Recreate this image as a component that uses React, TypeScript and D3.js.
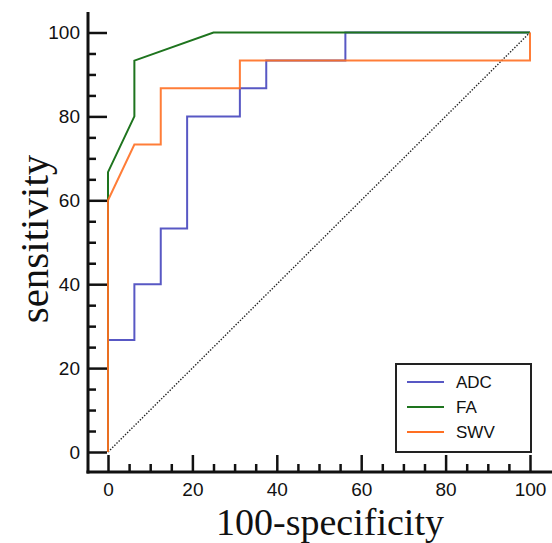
import React, { useEffect, useRef } from 'react';
import * as d3 from 'd3';

// ROC curves (100-specificity vs sensitivity)
const adcFpr = [0, 0, 6.25, 6.25, 12.5, 12.5, 18.75, 18.75, 31.25, 31.25, 37.5, 37.5, 56.25, 56.25, 100];
const adcTpr = [0, 26.7, 26.7, 40, 40, 53.3, 53.3, 80, 80, 86.7, 86.7, 93.3, 93.3, 100, 100];
const faFpr = [0, 0, 0, 6.25, 6.25, 25, 100];
const faTpr = [0, 60, 66.7, 80, 93.3, 100, 100];
const swvFpr = [0, 0, 6.25, 12.5, 12.5, 31.25, 31.25, 100, 100];
const swvTpr = [0, 60, 73.3, 73.3, 86.7, 86.7, 93.3, 93.3, 100];

const seriesNames = ['ADC', 'FA', 'SWV'];
const seriesColors = ['#5858c4', '#1e741e', '#ff6f22'];
const majorTicks = [0, 20, 40, 60, 80, 100];
const minorTicks = d3.range(5, 100, 5).filter(v => v % 20 !== 0);

const App = () => {
  const svgRef = useRef<SVGSVGElement>(null);

  useEffect(() => {
    const svg = d3.select(svgRef.current);
    svg.selectAll('*').remove();

    const width = 552;
    const height = 543;
    const axisX = 88;
    const axisY = 472;

    const x = d3.scaleLinear().domain([0, 100]).range([108, 530]);
    const y = d3.scaleLinear().domain([0, 100]).range([452, 32.5]);

    svg.attr('width', width).attr('height', height);

    // Diagonal reference line
    svg.append('line')
      .attr('x1', x(0)).attr('y1', y(0))
      .attr('x2', x(100)).attr('y2', y(100))
      .attr('stroke', '#222')
      .attr('stroke-width', 1.4)
      .attr('stroke-dasharray', '1.4,1.6');

    const line = d3.line<[number, number]>()
      .x(d => x(d[0]))
      .y(d => y(d[1]));

    const curves: [number[], number[]][] = [
      [adcFpr, adcTpr],
      [faFpr, faTpr],
      [swvFpr, swvTpr],
    ];

    curves.forEach(([fpr, tpr], i) => {
      svg.append('path')
        .datum(fpr.map((f, j) => [f, tpr[j]] as [number, number]))
        .attr('d', line)
        .attr('fill', 'none')
        .attr('stroke', seriesColors[i])
        .attr('stroke-width', 2)
        .attr('opacity', i === 2 ? 0.9 : 1);
    });

    // Axes
    const yMajor = svg.append('g')
      .attr('transform', `translate(${axisX},0)`)
      .call(d3.axisLeft(y).tickValues(majorTicks).tickSize(-19).tickPadding(8));
    const yMinor = svg.append('g')
      .attr('transform', `translate(${axisX},0)`)
      .call(d3.axisLeft(y).tickValues(minorTicks).tickSize(-8).tickFormat(() => ''));
    const xMajor = svg.append('g')
      .attr('transform', `translate(0,${axisY})`)
      .call(d3.axisBottom(x).tickValues(majorTicks).tickSize(-17).tickPadding(11));
    const xMinor = svg.append('g')
      .attr('transform', `translate(0,${axisY})`)
      .call(d3.axisBottom(x).tickValues(minorTicks).tickSize(-8).tickFormat(() => ''));

    [yMajor, yMinor, xMajor, xMinor].forEach(g => {
      g.select('.domain').remove();
      g.selectAll('.tick line').attr('stroke', '#111').attr('stroke-width', 2.5);
      g.selectAll('.tick text')
        .attr('fill', '#111')
        .style('font-family', '"Liberation Sans", Arial, sans-serif')
        .style('font-size', '19px');
    });
    xMajor.selectAll('.tick text').attr('dy', '0.71em');

    svg.append('line')
      .attr('x1', axisX).attr('y1', 12)
      .attr('x2', axisX).attr('y2', axisY + 1.5)
      .attr('stroke', '#111').attr('stroke-width', 3);
    svg.append('line')
      .attr('x1', axisX - 1.5).attr('y1', axisY)
      .attr('x2', width).attr('y2', axisY)
      .attr('stroke', '#111').attr('stroke-width', 3);

    // Axis titles
    svg.append('text')
      .attr('x', 330)
      .attr('y', 534.5)
      .attr('text-anchor', 'middle')
      .style('font-family', '"Liberation Serif", "Times New Roman", serif')
      .style('font-size', '38px')
      .attr('fill', '#111')
      .text('100-specificity');

    svg.append('text')
      .attr('transform', 'translate(48,239) rotate(-90)')
      .attr('text-anchor', 'middle')
      .style('font-family', '"Liberation Serif", "Times New Roman", serif')
      .style('font-size', '41px')
      .attr('fill', '#111')
      .text('sensitivity');

    // Legend
    const legend = svg.append('g');
    legend.append('rect')
      .attr('x', 396).attr('y', 364)
      .attr('width', 135).attr('height', 88)
      .attr('fill', '#fff')
      .attr('stroke', '#222')
      .attr('stroke-width', 2);
    seriesNames.forEach((name, i) => {
      const ly = 382 + i * 25;
      legend.append('line')
        .attr('x1', 407).attr('x2', 444)
        .attr('y1', ly).attr('y2', ly)
        .attr('stroke', seriesColors[i])
        .attr('stroke-width', 2);
      legend.append('text')
        .attr('x', 456).attr('y', ly)
        .attr('dy', '0.36em')
        .style('font-family', '"Liberation Sans", Arial, sans-serif')
        .style('font-size', '17px')
        .attr('fill', '#111')
        .text(name);
    });
  }, []);

  return (
    <svg ref={svgRef} style={{ position: 'absolute', left: 0, top: 0, background: '#fff' }}></svg>
  );
};

export default App;
